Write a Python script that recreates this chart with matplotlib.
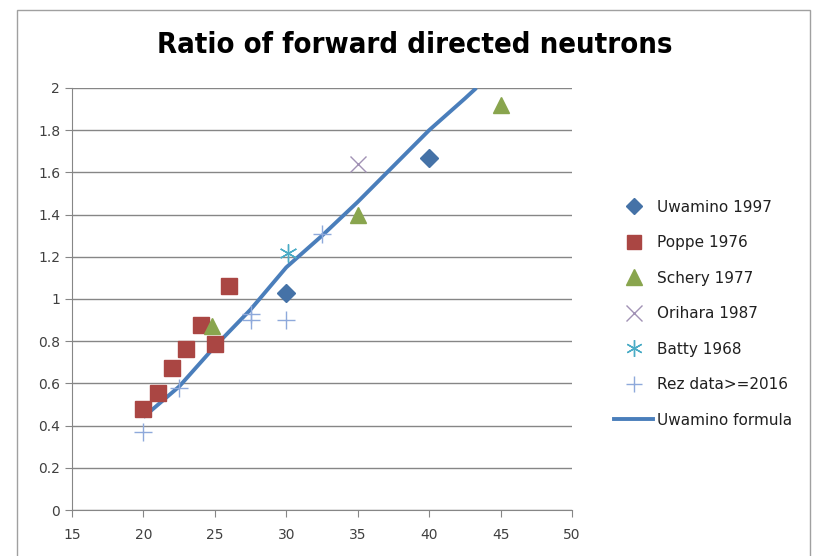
import numpy as np
import matplotlib
matplotlib.use("Agg")
import matplotlib.pyplot as plt
from matplotlib.patches import Rectangle
from matplotlib.lines import Line2D

# measured ratios, by data set
uwamino_x = [30, 40]
uwamino_y = [1.03, 1.67]
poppe_x = [20, 21, 22, 23, 24, 25, 26]
poppe_y = [0.48, 0.555, 0.675, 0.765, 0.875, 0.785, 1.06]
schery_x = [24.8, 35, 45]
schery_y = [0.87, 1.40, 1.92]
orihara_x = [35]
orihara_y = [1.64]
batty_x = [30.1]
batty_y = [1.22]
rez_x = [20, 22.5, 27.5, 27.5, 30, 32.5]
rez_y = [0.37, 0.58, 0.93, 0.90, 0.90, 1.31]

# Uwamino formula curve
formula_x = [20, 22.5, 25, 27.5, 30, 32.5, 35, 37.5, 40, 42.5, 43.3]
formula_y = [0.44, 0.585, 0.775, 0.95, 1.15, 1.30, 1.46, 1.63, 1.80, 1.95, 2.0]

title = "Ratio of forward directed neutrons"
xticks = [15, 20, 25, 30, 35, 40, 45, 50]
yticks = [0, 0.2, 0.4, 0.6, 0.8, 1, 1.2, 1.4, 1.6, 1.8, 2]
ytick_labels = ["0", "0.2", "0.4", "0.6", "0.8", "1", "1.2", "1.4", "1.6", "1.8", "2"]

grey = "#868686"
txt = "#404040"

fig = plt.figure(figsize=(8.19, 5.56), dpi=100)
fig.patches.append(Rectangle((17 / 819, -0.05), 793 / 819, 1.05 - 10 / 556,
                             transform=fig.transFigure, fill=False,
                             edgecolor="#a0a0a0", lw=1.0))

ax = fig.add_axes([72 / 819, 1 - 510 / 556, 500 / 819, 422 / 556])

ax.plot(formula_x, formula_y, color="#4A7EBB", lw=2.8, zorder=2,
        solid_capstyle="butt", solid_joinstyle="round")
ax.plot(uwamino_x, uwamino_y, ls="none", marker="D", ms=9, color="#4572A7",
        mec="#4572A7", zorder=3)
ax.plot(poppe_x, poppe_y, ls="none", marker="s", ms=11, color="#AA4643",
        mec="#AA4643", zorder=3)
ax.plot(schery_x, schery_y, ls="none", marker="^", ms=12, color="#89A54E",
        mec="#89A54E", zorder=3)
ax.plot(orihara_x, orihara_y, ls="none", marker="x", ms=11, mew=1.0,
        color="#A192B5", zorder=3)
ax.plot(batty_x, batty_y, ls="none", marker=(6, 2, 0), ms=13, mew=1.0,
        color="#4BACC6", zorder=3)
ax.plot(rez_x, rez_y, ls="none", marker="+", ms=13, mew=1.0,
        color="#8EA9DB", zorder=3)

ax.set_xlim(15, 50)
ax.set_ylim(0, 2)
ax.set_xticks(xticks)
ax.set_yticks(yticks)
ax.set_yticklabels(ytick_labels)
ax.grid(axis="y", color=grey, lw=1.0)
ax.set_axisbelow(True)
for s in ("top", "right"):
    ax.spines[s].set_visible(False)
for s in ("left", "bottom"):
    ax.spines[s].set_color(grey)
ax.tick_params(axis="both", colors=grey, labelcolor=txt, labelsize=10,
               direction="out", length=5)
ax.tick_params(axis="x", pad=8)

fig.text(415 / 819, 1 - 45 / 556, title, ha="center", va="center",
         fontsize=21, fontweight="bold", fontstretch="condensed",
         family="DejaVu Sans")

handles = [
    Line2D([], [], ls="none", marker="D", ms=8, color="#4572A7"),
    Line2D([], [], ls="none", marker="s", ms=10, color="#AA4643"),
    Line2D([], [], ls="none", marker="^", ms=11, color="#89A54E"),
    Line2D([], [], ls="none", marker="x", ms=11, mew=1.0, color="#A192B5"),
    Line2D([], [], ls="none", marker=(6, 2, 0), ms=12, mew=1.0, color="#4BACC6"),
    Line2D([], [], ls="none", marker="+", ms=12, mew=1.0, color="#8EA9DB"),
    Line2D([], [], color="#4A7EBB", lw=2.8),
]
labels = ["Uwamino 1997", "Poppe 1976", "Schery 1977", "Orihara 1987",
          "Batty 1968", "Rez data>=2016", "Uwamino formula"]
fig.legend(handles, labels, loc="upper left",
           bbox_to_anchor=(600 / 819, 1 - 186 / 556), frameon=False,
           fontsize=11, labelspacing=1.34, handlelength=2.6,
           handletextpad=0.2, labelcolor="#202020")

fig.savefig("out.png", dpi=100)
